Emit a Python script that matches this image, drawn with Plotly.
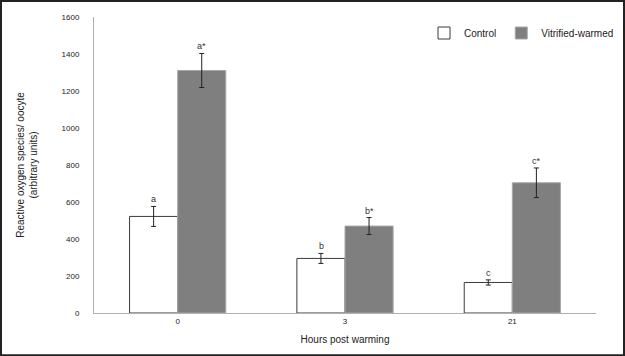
import plotly.graph_objects as go

categories = ["0", "3", "21"]
control = [522, 295, 165]
control_err = [54, 27, 14]
vitrified = [1311, 470, 704]
vitrified_err = [92, 46, 80]
control_letters = ["a", "b", "c"]
vitrified_letters = ["a*", "b*", "c*"]
y_ticks = [0, 200, 400, 600, 800, 1000, 1200, 1400, 1600]

FONT = "Liberation Sans, Arial, sans-serif"

fig = go.Figure()
fig.add_trace(go.Bar(
    x=categories, y=control, name="Control",
    marker=dict(color="white", line=dict(color="#3a3a3a", width=1)),
    error_y=dict(type="data", array=control_err, color="#222222", thickness=1, width=2.5),
))
fig.add_trace(go.Bar(
    x=categories, y=vitrified, name="Vitrified-warmed",
    marker=dict(color="#7f7f7f", line=dict(color="#a8a8a8", width=1)),
    error_y=dict(type="data", array=vitrified_err, color="#222222", thickness=1, width=2.5),
))

# letter annotations placed above error bars
for i, cat in enumerate(categories):
    fig.add_annotation(x=i, xshift=-24, y=control[i] + control_err[i], text=control_letters[i],
                       showarrow=False, yanchor="bottom", font=dict(size=9, color="#333333", family=FONT))
    fig.add_annotation(x=i, xshift=24, y=vitrified[i] + vitrified_err[i], text=vitrified_letters[i],
                       showarrow=False, yanchor="bottom", font=dict(size=9, color="#333333", family=FONT))

# outer frame of the picture
fig.add_shape(type="rect", xref="paper", yref="paper",
              x0=-93/502, x1=(624-94)/502, y0=-(355-312.7)/295.7, y1=(312.7-1)/295.7,
              line=dict(color="#222222", width=2))

fig.update_layout(
    width=625, height=356,
    margin=dict(l=94, r=29, t=17, b=43.3, autoexpand=False),
    paper_bgcolor="white", plot_bgcolor="white",
    barmode="group", bargap=0.425, bargroupgap=0,
    font=dict(family=FONT, color="#222222"),
    showlegend=True,
    legend=dict(orientation="h", xref="container", yref="container",
                x=619/625, xanchor="right", y=1 - 33/356, yanchor="middle",
                font=dict(size=10, family=FONT), bgcolor="rgba(0,0,0,0)",
                itemwidth=30, tracegroupgap=0),
    xaxis=dict(type="category", range=[-0.5, 2.5], showline=True, linecolor="#b0b0b0", linewidth=1,
               ticks="", tickfont=dict(size=8), showgrid=False, zeroline=False,
               title=dict(text="Hours post warming", font=dict(size=10), standoff=11)),
    yaxis=dict(range=[0, 1600], tickvals=y_ticks, showline=True, linecolor="#b0b0b0", linewidth=1,
               ticks="", tickfont=dict(size=8), showgrid=False, zeroline=False, ticklabelstandoff=12,
               title=dict(text="Reactive oxygen species/ oocyte<br>(arbitrary units)",
                          font=dict(size=10), standoff=22)),
)

fig.write_html("out.html", post_script="document.body.style.margin='0';",
               config={"displayModeBar": False})
